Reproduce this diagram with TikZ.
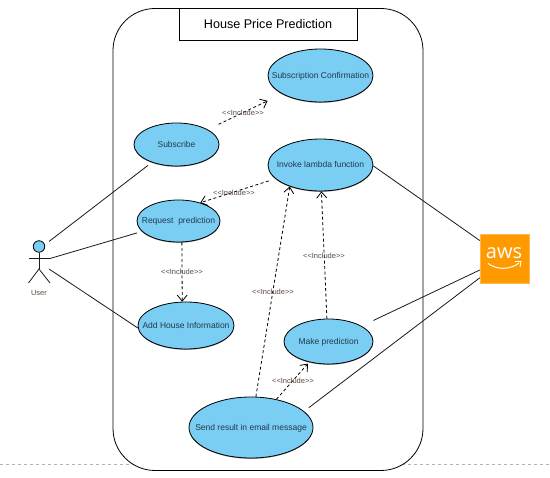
\documentclass[tikz,border=0pt]{standalone}
\usepackage{fontspec}
\setmainfont{Liberation Sans}
\newfontfamily\awsfont{Open Sans}
\usetikzlibrary{shapes.geometric,arrows.meta,shadows}
\definecolor{ucfill}{HTML}{7ACEF4}
\definecolor{uctext}{HTML}{24384C}
\definecolor{inctext}{HTML}{5A4A40}
\definecolor{awsorange}{HTML}{FF9900}
\tikzset{
  usecase/.style={ellipse,draw=black,line width=0.8pt,fill=ucfill,inner sep=0pt,text=uctext,font=\fontsize{8.5}{10}\selectfont,
    general shadow={shadow xshift=0pt,shadow yshift=-0.8pt,fill=black!45}},
  assoc/.style={draw=black!90,line width=0.8pt},
  incl/.style={draw=black,line width=0.8pt,dash pattern=on 3pt off 2.5pt,-{Straight Barb[length=6pt,width=10pt,line width=0.8pt]}},
  inclabel/.style={inner sep=0pt,text=inctext,font=\fontsize{7.5}{9}\selectfont},
}
\newcommand{\inc}{<{}<Include>{}>}
\newcommand{\uc}[1]{\raisebox{-3pt}[0pt][0pt]{\makebox[0pt][c]{#1}}}
\begin{document}
\begin{tikzpicture}[x=1pt,y=-1pt]
\useasboundingbox (0,0) rectangle (550,478);
\coordinate (dashL) at (0,464);
\coordinate (dashR) at (550,464);
\draw[black!30,line width=0.6pt,dash pattern=on 3pt off 3pt] (dashL) -- (dashR);
\node[draw=black,line width=0.8pt,fill=white,rounded corners=42pt,inner sep=0pt,minimum width=310pt,minimum height=462pt] (boundary) at (268,239.5) {};
\node[draw=black,line width=0.8pt,fill=white,inner sep=0pt,minimum width=178pt,minimum height=32pt,font=\fontsize{12.6}{15}\selectfont,
  general shadow={shadow xshift=0.6pt,shadow yshift=-0.6pt,fill=black!35}] (title) at (268,24) {House Price Prediction};

\node[usecase,minimum width=105pt,minimum height=53pt] (conf) at (320.5,75.5) {\uc{Subscription Confirmation}};
\node[usecase,minimum width=85pt,minimum height=43pt] (sub) at (176.5,144.5) {\uc{Subscribe}};
\node[usecase,minimum width=105pt,minimum height=52pt] (inv) at (320.5,165) {\uc{Invoke lambda function}};
\node[usecase,minimum width=83pt,minimum height=42pt] (req) at (178.5,221) {\uc{Request\ \ prediction}};
\node[usecase,minimum width=96pt,minimum height=47pt] (add) at (186,325.5) {\uc{Add House Information}};
\node[usecase,minimum width=89pt,minimum height=45pt] (make) at (328.5,341.5) {\uc{Make prediction}};
\node[usecase,minimum width=124pt,minimum height=61pt] (send) at (251,427.5) {\uc{Send result in email message}};

% actor
\node[circle,draw=black,line width=0.8pt,fill=ucfill,inner sep=0pt,minimum size=11.5pt] (head) at (39,246.5) {};
\coordinate (hip) at (39,269);
\coordinate (armL) at (29,258);
\coordinate (armR) at (50,258);
\coordinate (legL) at (28.5,283);
\coordinate (legR) at (50,283);
\draw[assoc] (head) -- (hip);
\draw[assoc] (armL) -- (armR);
\draw[assoc] (legL) -- (hip) -- (legR);
\node[inner sep=0pt,text=inctext,font=\fontsize{7.5}{9}\selectfont] (user) at (39,292.5) {User};

% aws
\node[fill=awsorange,draw=awsorange!70!white,line width=0.4pt,inner sep=0pt,minimum size=49pt] (aws) at (504.5,258.5) {};
\node[inner sep=0pt,text=white,font=\awsfont\fontsize{20}{22}\selectfont] (awstext) at (504,253) {aws};
\coordinate (smA) at (488,263.5);
\coordinate (smB) at (519,263);
\draw[white,line width=1pt] (smA) .. controls (497,270) and (510,270) .. (smB);
\coordinate (smC) at (515,261.5);
\coordinate (smD) at (521,261.5);
\coordinate (smE) at (520,267);
\draw[white,line width=0.9pt] (smC) -- (smD) -- (smE);

% associations
\coordinate (uA) at (49,241.5);
\coordinate (uB) at (50,258.5);
\coordinate (uC) at (49,269);
\draw[assoc,shorten >=5pt] (uA) -- (sub.216.7);
\draw[assoc,shorten >=5pt] (uB) -- (req.196.5);
\draw[assoc] (uC) -- (add.183);
\draw[assoc] (inv.359) -- (aws.144.5);
\draw[assoc,shorten <=13pt] (make.25) -- (aws.205.1);
\draw[assoc,shorten <=6pt] (send.17.3) -- (aws.218.5);

% includes
\draw[incl,shorten <=12pt,shorten >=16pt] (sub) -- (conf);
\draw[incl,shorten <=7pt] (inv.197.3) -- (req.40);
\draw[incl] (req.279.5) -- (add.99.5);
\draw[incl] (send.81) -- (inv.215);
\draw[incl] (make.94) -- (inv.272.6);
\draw[incl,shorten >=2pt] (send.48.5) -- (make.227.7);

\node[inclabel] (l1) at (243,112.5) {\inc};
\node[inclabel] (l2) at (234,192.5) {\inc};
\node[inclabel] (l3) at (182,271.5) {\inc};
\node[inclabel] (l4) at (273,291.5) {\inc};
\node[inclabel] (l5) at (324,255.5) {\inc};
\node[inclabel] (l6) at (293,380.5) {\inc};
\end{tikzpicture}
\end{document}
